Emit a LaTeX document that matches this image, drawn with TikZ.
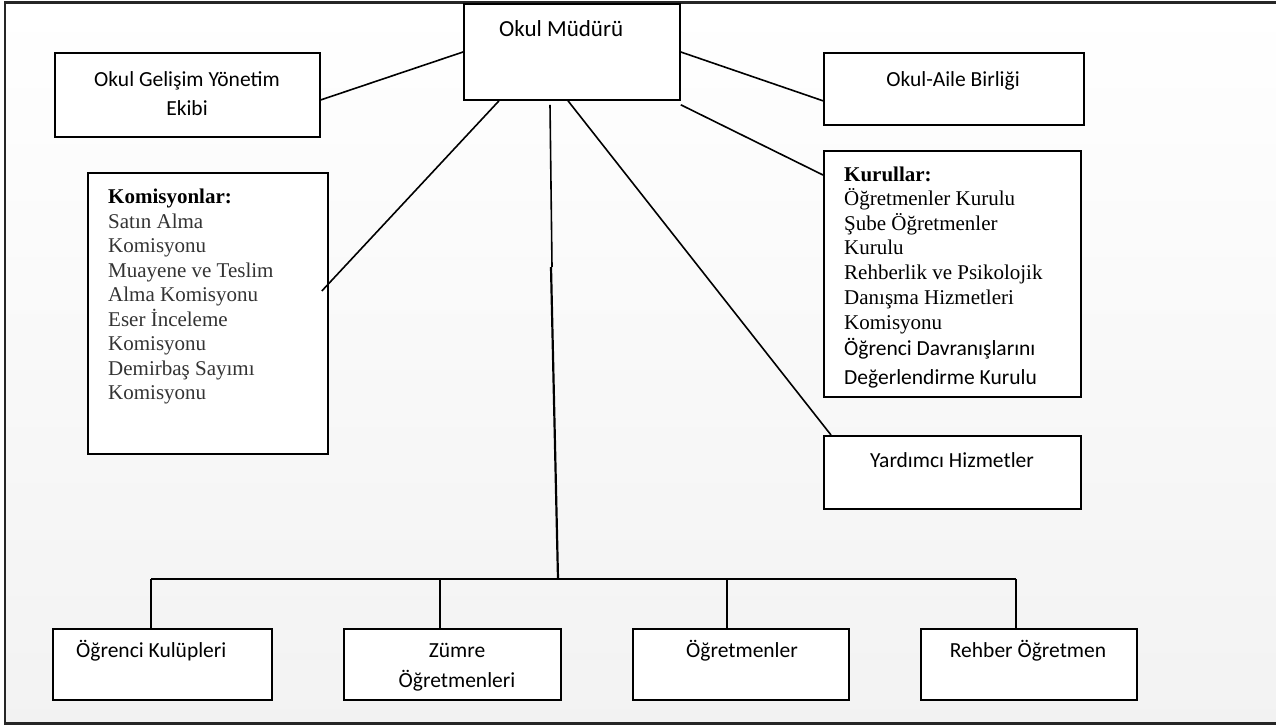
\documentclass[tikz,border=0pt]{standalone}
\usepackage{fontspec}
\setmainfont{Liberation Serif}
\newfontfamily\carl{Carlito}
\usetikzlibrary{calc}
\begin{document}
\begin{tikzpicture}[x=1pt,y=-1pt,
  box/.style={draw=black, line width=1.8pt, fill=white, inner sep=0pt, anchor=north west},
  conn/.style={line width=1.6pt, draw=black},
  sanslbl/.style={font=\carl\fontsize{21.5}{25}\selectfont, inner sep=0pt, anchor=base},
  serlbl/.style={font=\fontsize{21}{24.5}\selectfont, inner sep=0pt, anchor=base west}
]
\useasboundingbox (0,0) rectangle (1276,726);
% background and frame
\shade[top color=white, bottom color=black!5] (5,3) rectangle (1276,723);
\draw[line width=2.2pt, black!85] (5,2.5) rectangle (1290,723.5);

% boxes
\node[box, minimum width=216pt, minimum height=96pt] (mudur) at (463,3) {};
\node[box, minimum width=265pt, minimum height=84pt] (gelisim) at (54,52) {};
\node[box, minimum width=260pt, minimum height=72pt] (aile) at (823,52) {};
\node[box, minimum width=240pt, minimum height=281pt] (komis) at (87,172) {};
\node[box, minimum width=257pt, minimum height=246pt] (kurul) at (823,150) {};
\node[box, minimum width=257pt, minimum height=73pt] (yard) at (823,435) {};
\node[box, minimum width=219pt, minimum height=71pt] (b1) at (52,628) {};
\node[box, minimum width=217pt, minimum height=71pt] (b2) at (343,628) {};
\node[box, minimum width=216pt, minimum height=71pt] (b3) at (632,628) {};
\node[box, minimum width=216pt, minimum height=71pt] (b4) at (920,628) {};

% connectors
\draw[conn] ($(gelisim.east)+(0,5)$) -- ($(mudur.north west)+(0,49)$);
\draw[conn] ($(mudur.north east)+(0,49)$) -- ($(aile.south west)+(0,-25)$);
\draw[conn] ($(mudur.south east)+(0,4)$) -- ($(kurul.north west)+(0,25)$);
\draw[conn] ($(mudur.south west)+(36,0)$) -- ($(komis.north east)+(-7,119)$);
\draw[conn] ($(mudur.south west)+(105,0)$) -- ($(yard.north west)+(8,0)$);

\coordinate (brk) at (552,267);
\coordinate (hub) at (558,579);
\coordinate (busL) at (151,579);
\coordinate (busR) at (1016,579);
\coordinate (t2) at (440,579);
\coordinate (t3) at (727,579);
\draw[conn] ($(mudur.south west)+(87,4)$) -- (brk);
\draw[line width=2.2pt] ($(brk)+(-1,0)$) -- (hub);
\draw[conn] (busL) -- (busR);
\draw[conn] (busL) -- (busL |- b1.north);
\draw[conn] (t2) -- (t2 |- b2.north);
\draw[conn] (t3) -- (t3 |- b3.north);
\draw[conn] (busR) -- (busR |- b4.north);

% texts
\node[sanslbl, anchor=base west, font=\carl\fontsize{23}{26}\selectfont] (tm) at (499,36) {Okul Müdürü};
\node[sanslbl] (tg1) at (187,86) {Okul Gelişim Yönetim};
\node[sanslbl] (tg2) at (187,115) {Ekibi};
\node[sanslbl] (ta) at (953,86) {Okul-Aile Birliği};
\node[sanslbl] (ty) at (952,467) {Yardımcı Hizmetler};
\node[sanslbl, anchor=base west] (tb1) at (76,657) {Öğrenci Kulüpleri};
\node[sanslbl] (tb2a) at (457,657) {Zümre};
\node[sanslbl] (tb2b) at (457,687) {Öğretmenleri};
\node[sanslbl] (tb3) at (742,657) {Öğretmenler};
\node[sanslbl] (tb4) at (1028,657) {Rehber Öğretmen};

\node[serlbl, font=\bfseries\fontsize{21}{24.5}\selectfont] (komh) at (108,203) {Komisyonlar:};
\foreach \yy/\txt [count=\i] in {228/Satın Alma, 252/Komisyonu, 277/Muayene ve Teslim, 301/Alma Komisyonu, 326/Eser İnceleme, 350/Komisyonu, 375/Demirbaş Sayımı, 399/Komisyonu}
  \node[serlbl, text=black!80] (kom\i) at (108,\yy) {\txt};

\node[serlbl, font=\bfseries\fontsize{21}{24.5}\selectfont] (kurh) at (844,181) {Kurullar:};
\foreach \yy/\txt [count=\i] in {205/Öğretmenler Kurulu, 230/Şube Öğretmenler, 254/Kurulu, 279/Rehberlik ve Psikolojik, 304/Danışma Hizmetleri, 329/Komisyonu}
  \node[serlbl] (kur\i) at (844,\yy) {\txt};
\node[sanslbl, anchor=base west] (kur7) at (844,355) {Öğrenci Davranışlarını};
\node[sanslbl, anchor=base west] (kur8) at (844,384) {Değerlendirme Kurulu};
\end{tikzpicture}
\end{document}
